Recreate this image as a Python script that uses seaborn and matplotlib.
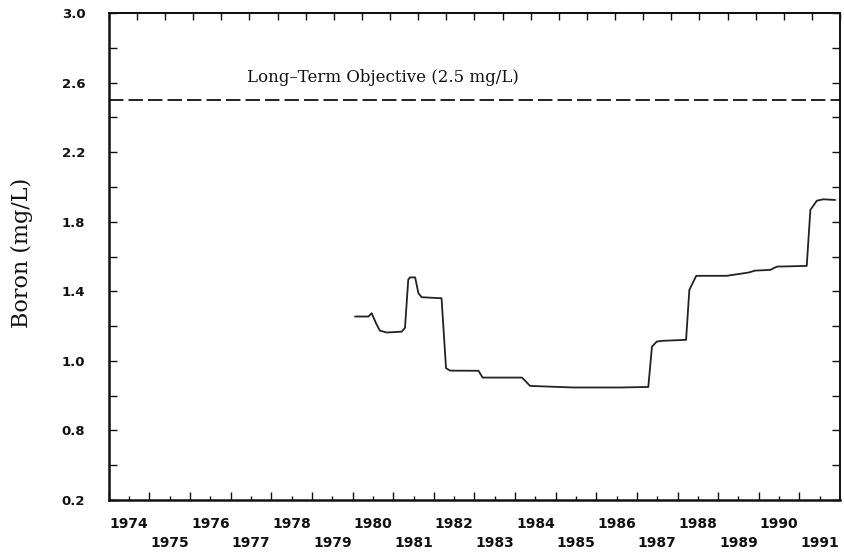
import matplotlib
matplotlib.use("Agg")
import matplotlib.pyplot as plt
import seaborn as sns
import numpy as np
import pandas as pd
from matplotlib.ticker import MultipleLocator, FixedLocator

# ---- data ----
years = [1979.56, 1979.89, 1979.97, 1980.08, 1980.17, 1980.34, 1980.71, 1980.79,
         1980.87, 1980.91, 1981.04, 1981.12, 1981.20, 1981.69, 1981.80, 1981.90,
         1982.60, 1982.70, 1983.67, 1983.87, 1984.93, 1986.09, 1986.78, 1986.87,
         1986.99, 1987.11, 1987.71, 1987.79, 1987.96, 1988.71, 1989.25, 1989.41,
         1989.78, 1989.95, 1990.68, 1990.77, 1990.93, 1991.09, 1991.38]
boron = [1.255, 1.255, 1.274, 1.215, 1.174, 1.163, 1.168, 1.190,
         1.466, 1.480, 1.480, 1.389, 1.366, 1.360, 0.958, 0.944,
         0.943, 0.904, 0.904, 0.856, 0.847, 0.847, 0.850, 1.082,
         1.111, 1.115, 1.121, 1.408, 1.489, 1.489, 1.508, 1.519,
         1.523, 1.542, 1.546, 1.868, 1.921, 1.929, 1.925]

objective_value = 2.5
objective_label = "Long\u2013Term Objective (2.5 mg/L)"
y_label = "Boron (mg/L)"
year_ticks = list(range(1974, 1992))
y_tick_values = [0.2, 0.6, 1.0, 1.4, 1.8, 2.2, 2.6, 3.0]
y_tick_labels = ["0.2", "0.8", "1.0", "1.4", "1.8", "2.2", "2.6", "3.0"]

df = pd.DataFrame({"year": years, "boron": boron})

sns.set_style("ticks")
plt.rcParams["font.family"] = ["DejaVu Sans"]

fig = plt.figure(figsize=(8.44, 5.53), dpi=100)
ax = fig.add_axes([0.129, 0.0958, 0.9953 - 0.129, 0.9765 - 0.0958])

sns.lineplot(data=df, x="year", y="boron", ax=ax, color="#222222",
             linewidth=1.3, estimator=None, sort=False)

ax.axhline(objective_value, color="#111111", linewidth=1.3, dashes=(8, 2.8))
ax.text(1980.25, 2.63, objective_label, ha="center", va="center",
        fontsize=12, family="DejaVu Serif", color="#111111")

ax.set_xlim(1973.5, 1991.5)
ax.set_ylim(0.2, 3.0)

# x ticks: labels at years, taller ticks at half years
ax.xaxis.set_major_locator(FixedLocator(year_ticks))
ax.xaxis.set_minor_locator(FixedLocator([y + 0.5 for y in year_ticks[:-1]] + [1973.5]))
ax.set_xticklabels([str(y) if (y % 2 == 0) else "\n" + str(y) for y in year_ticks],
                   fontsize=10, fontweight="semibold", linespacing=1.45)
ax.tick_params(axis="x", which="major", direction="in", length=3, width=1.0,
               pad=12, top=False, colors="#111111")
ax.tick_params(axis="x", which="minor", direction="in", length=6, width=1.0,
               top=False, color="#111111")

# y ticks
ax.yaxis.set_major_locator(FixedLocator(y_tick_values))
ax.yaxis.set_minor_locator(MultipleLocator(0.2))
ax.set_yticklabels(y_tick_labels, fontsize=9.5, fontweight="semibold")
ax.tick_params(axis="y", which="both", direction="in", length=6, width=1.0,
               right=True, pad=17, colors="#111111")

# top ticks (evenly spaced, unlabeled)
top = ax.secondary_xaxis("top")
top.set_xticks(list(np.linspace(1973.5, 1991.5, 27)))
top.set_xticklabels([])
top.tick_params(direction="in", length=5, width=1.0, color="#111111")
top.spines["top"].set_linewidth(1.4)

ax.set_xlabel("")
ax.set_ylabel(y_label, fontsize=16, family="DejaVu Serif", color="#111111")
ax.yaxis.set_label_coords(-0.104, 0.507)

for s in ["left", "bottom"]:
    ax.spines[s].set_linewidth(1.8)
for s in ["top", "right"]:
    ax.spines[s].set_visible(True)
    ax.spines[s].set_linewidth(1.4)
for s in ax.spines.values():
    s.set_color("#111111")

fig.savefig("out.png", dpi=100)
